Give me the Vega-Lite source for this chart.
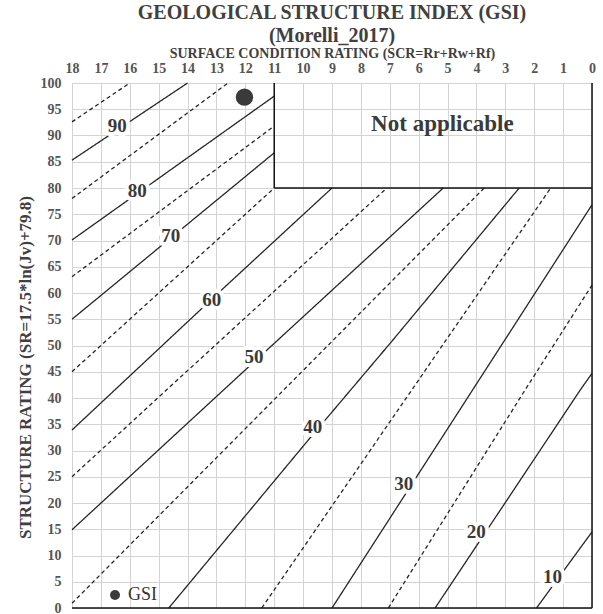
{
  "$schema": "https://vega.github.io/schema/vega-lite/v6.json",
  "width": 520,
  "height": 525,
  "autosize": "none",
  "padding": {"left": 72, "top": 83, "right": 11, "bottom": 6},
  "background": "white",
  "title": {
    "text": ["GEOLOGICAL STRUCTURE INDEX (GSI)", "(Morelli_2017)"],
    "anchor": "middle",
    "frame": "group",
    "font": "Liberation Serif",
    "fontSize": 20,
    "fontWeight": "bold",
    "color": "#404040",
    "lineHeight": 23,
    "offset": 0
  },
  "config": {
    "view": {"stroke": null},
    "axis": {
      "gridColor": "#d3d3d3",
      "gridWidth": 1,
      "ticks": false,
      "domain": false,
      "labelOverlap": false,
      "labelFont": "Liberation Serif",
      "labelFontWeight": "bold",
      "labelFontSize": 14,
      "labelColor": "#555555",
      "titleFont": "Liberation Serif",
      "titleColor": "#404040"
    }
  },
  "datasets": {
    "lines": [
      {"gsi": 95, "style": "dashed", "ord": 1, "scr": 18, "sr": 92.6},
      {"gsi": 95, "style": "dashed", "ord": 2, "scr": 16.0, "sr": 100},
      {"gsi": 90, "style": "solid", "ord": 1, "scr": 18, "sr": 85.3},
      {"gsi": 90, "style": "solid", "ord": 2, "scr": 14.0, "sr": 100},
      {"gsi": 85, "style": "dashed", "ord": 1, "scr": 18, "sr": 78.0},
      {"gsi": 85, "style": "dashed", "ord": 2, "scr": 12.6, "sr": 100},
      {"gsi": 80, "style": "solid", "ord": 1, "scr": 18, "sr": 70.1},
      {"gsi": 80, "style": "solid", "ord": 2, "scr": 11, "sr": 97.5},
      {"gsi": 75, "style": "dashed", "ord": 1, "scr": 18, "sr": 63.1},
      {"gsi": 75, "style": "dashed", "ord": 2, "scr": 11, "sr": 91.8},
      {"gsi": 70, "style": "solid", "ord": 1, "scr": 18, "sr": 55.0},
      {"gsi": 70, "style": "solid", "ord": 2, "scr": 11, "sr": 86.7},
      {"gsi": 65, "style": "dashed", "ord": 1, "scr": 18, "sr": 45.0},
      {"gsi": 65, "style": "dashed", "ord": 2, "scr": 11, "sr": 80},
      {"gsi": 60, "style": "solid", "ord": 1, "scr": 18, "sr": 33.9},
      {"gsi": 60, "style": "solid", "ord": 2, "scr": 12.7, "sr": 61.2},
      {"gsi": 60, "style": "solid", "ord": 3, "scr": 9.0, "sr": 80},
      {"gsi": 55, "style": "dashed", "ord": 1, "scr": 18, "sr": 25.0},
      {"gsi": 55, "style": "dashed", "ord": 2, "scr": 14.26, "sr": 43.9},
      {"gsi": 55, "style": "dashed", "ord": 3, "scr": 7.1, "sr": 80},
      {"gsi": 50, "style": "solid", "ord": 1, "scr": 18, "sr": 14.9},
      {"gsi": 50, "style": "solid", "ord": 2, "scr": 12.76, "sr": 41.5},
      {"gsi": 50, "style": "solid", "ord": 3, "scr": 5.15, "sr": 80},
      {"gsi": 45, "style": "dashed", "ord": 1, "scr": 18, "sr": 0.9},
      {"gsi": 45, "style": "dashed", "ord": 2, "scr": 3.73, "sr": 80},
      {"gsi": 40, "style": "solid", "ord": 1, "scr": 14.65, "sr": 0},
      {"gsi": 40, "style": "solid", "ord": 2, "scr": 9.82, "sr": 32},
      {"gsi": 40, "style": "solid", "ord": 3, "scr": 6.99, "sr": 50.4},
      {"gsi": 40, "style": "solid", "ord": 4, "scr": 2.52, "sr": 80},
      {"gsi": 35, "style": "dashed", "ord": 1, "scr": 11.43, "sr": 0},
      {"gsi": 35, "style": "dashed", "ord": 2, "scr": 1.43, "sr": 80},
      {"gsi": 30, "style": "solid", "ord": 1, "scr": 9.0, "sr": 0},
      {"gsi": 30, "style": "solid", "ord": 2, "scr": 0, "sr": 76.8},
      {"gsi": 25, "style": "dashed", "ord": 1, "scr": 7.05, "sr": 0},
      {"gsi": 25, "style": "dashed", "ord": 2, "scr": 2.32, "sr": 41.5},
      {"gsi": 25, "style": "dashed", "ord": 3, "scr": 0, "sr": 61.5},
      {"gsi": 20, "style": "solid", "ord": 1, "scr": 5.43, "sr": 0},
      {"gsi": 20, "style": "solid", "ord": 2, "scr": 0.41, "sr": 41.5},
      {"gsi": 20, "style": "solid", "ord": 3, "scr": 0, "sr": 44.7},
      {"gsi": 10, "style": "solid", "ord": 1, "scr": 1.92, "sr": 0},
      {"gsi": 10, "style": "solid", "ord": 2, "scr": 0, "sr": 14.5}
    ],
    "labels": [
      {"label": "90", "scr": 16.43, "sr": 91.8},
      {"label": "80", "scr": 15.74, "sr": 79.4},
      {"label": "70", "scr": 14.58, "sr": 70.8},
      {"label": "60", "scr": 13.16, "sr": 58.7},
      {"label": "50", "scr": 11.7, "sr": 47.9},
      {"label": "40", "scr": 9.67, "sr": 34.4},
      {"label": "30", "scr": 6.52, "sr": 23.7},
      {"label": "20", "scr": 4.01, "sr": 14.5},
      {"label": "10", "scr": 1.37, "sr": 6.0}
    ],
    "edges": [
      {"scr": 11, "sr": 80, "scr2": 11, "sr2": 100},
      {"scr": 11, "sr": 80, "scr2": 0, "sr2": 80},
      {"scr": 0, "sr": 0, "scr2": 0, "sr2": 100},
      {"scr": 18, "sr": 0, "scr2": 0, "sr2": 0}
    ],
    "note": [{"text": "Not applicable", "scr": 5.18, "sr": 92.1}],
    "gsi": [{"name": "GSI", "scr": 12.03, "sr": 97.3}]
  },
  "encoding": {
    "x": {
      "field": "scr", "type": "quantitative",
      "scale": {"domain": [0, 18], "reverse": true, "nice": false, "zero": false},
      "axis": {
        "orient": "top",
        "values": [0,1,2,3,4,5,6,7,8,9,10,11,12,13,14,15,16,17,18],
        "labelOverlap": false,
        "labelFlush": false,
        "labelPadding": 8,
        "title": "SURFACE CONDITION RATING (SCR=Rr+Rw+Rf)",
        "titleFontSize": 14,
        "titleFontWeight": "bold",
        "titlePadding": 1
      }
    },
    "y": {
      "field": "sr", "type": "quantitative",
      "scale": {"domain": [0, 100], "nice": false},
      "axis": {
        "values": [0,5,10,15,20,25,30,35,40,45,50,55,60,65,70,75,80,85,90,95,100],
        "labelOverlap": false,
        "labelFlush": false,
        "labelPadding": 11,
        "title": "STRUCTURE RATING (SR=17.5*ln(Jv)+79.8)",
        "titleFontSize": 17,
        "titleFontWeight": "bold",
        "titleX": -47,
        "titleY": 284,
        "titleAngle": -90,
        "titleBaseline": "middle",
        "titleAlign": "center"
      }
    }
  },
  "layer": [
    {
      "data": {"name": "lines"},
      "mark": {"type": "line", "strokeWidth": 1.3, "color": "#262626"},
      "encoding": {
        "detail": {"field": "gsi"},
        "order": {"field": "ord"},
        "strokeDash": {
          "field": "style", "type": "nominal",
          "scale": {"domain": ["solid", "dashed"], "range": [[1, 0], [4, 3]]},
          "legend": null
        }
      }
    },
    {
      "data": {"name": "edges"},
      "mark": {"type": "rule", "color": "#111111", "strokeWidth": 1.5},
      "encoding": {
        "x2": {"field": "scr2"},
        "y2": {"field": "sr2"}
      }
    },
    {
      "data": {"name": "labels"},
      "mark": {"type": "text", "font": "Liberation Serif", "fontWeight": "bold", "fontSize": 19, "fill": "white", "stroke": "white", "strokeWidth": 8, "strokeJoin": "round", "align": "center", "baseline": "middle"},
      "encoding": {
        "text": {"field": "label"}
      }
    },
    {
      "data": {"name": "labels"},
      "mark": {"type": "text", "font": "Liberation Serif", "fontWeight": "bold", "fontSize": 19, "color": "#3a3a3a", "align": "center", "baseline": "middle"},
      "encoding": {
        "text": {"field": "label"}
      }
    },
    {
      "data": {"name": "note"},
      "mark": {"type": "text", "font": "Liberation Serif", "fontWeight": "bold", "fontSize": 23, "color": "#3a3a3a", "align": "center", "baseline": "middle"},
      "encoding": {
        "text": {"field": "text"}
      }
    },
    {
      "data": {"name": "gsi"},
      "mark": {"type": "point", "shape": "circle", "filled": true, "opacity": 1, "size": 300, "strokeWidth": 0},
      "encoding": {
        "color": {
          "field": "name", "type": "nominal",
          "scale": {"domain": ["GSI"], "range": ["#3a3a3a"]},
          "legend": {
            "orient": "none",
            "legendX": 34,
            "legendY": 503,
            "title": null,
            "padding": 0,
            "symbolType": "circle",
            "symbolSize": 100,
            "symbolStrokeWidth": 0,
            "symbolOpacity": 1,
            "labelFont": "Liberation Serif",
            "labelFontSize": 18,
            "labelColor": "#333333",
            "labelOffset": 4
          }
        }
      }
    }
  ]
}
